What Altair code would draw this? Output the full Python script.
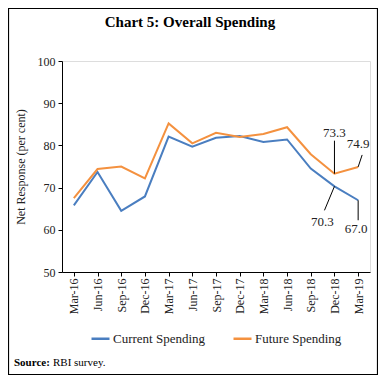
import altair as alt
import pandas as pd

categories = ["Mar-16", "Jun-16", "Sep-16", "Dec-16", "Mar-17", "Jun-17", "Sep-17",
              "Dec-17", "Mar-18", "Jun-18", "Sep-18", "Dec-18", "Mar-19"]
current = [65.8, 73.7, 64.5, 67.9, 82.1, 79.7, 81.8, 82.2, 80.8, 81.4, 74.5, 70.3, 67.0]
future = [67.5, 74.4, 75.0, 72.2, 85.2, 80.5, 83.0, 82.0, 82.7, 84.3, 77.9, 73.3, 74.9]
series_names = ["Current Spending", "Future Spending"]
colors = ["#4A7EC0", "#F4913F"]
title_text = "Chart 5: Overall Spending"

rows = []
for c, a, b in zip(categories, current, future):
    rows.append({"q": c, "s": series_names[0], "v": a})
    rows.append({"q": c, "s": series_names[1], "v": b})
df = pd.DataFrame(rows)

FONT = "Liberation Serif"
W, H = 308, 211

x = alt.X("q:N", sort=categories, title=None,
          scale=alt.Scale(type="point", padding=0.5),
          axis=alt.Axis(labelAngle=-90, labelAlign="right", labelBaseline="middle",
                        labelFont=FONT, labelFontSize=12, labelColor="#222",
                        tickSize=4, tickColor="#000", domainColor="#000",
                        labelPadding=2, grid=False))
y = alt.Y("v:Q", title="Net Response (per cent)",
          scale=alt.Scale(domain=[50, 100], nice=False, zero=False),
          axis=alt.Axis(values=[50, 60, 70, 80, 90, 100], labelFont=FONT, labelFontSize=12,
                        labelColor="#222", tickSize=4, tickColor="#000", domainColor="#000",
                        labelPadding=3, grid=False, titleFont=FONT, titleFontSize=12,
                        titleFontWeight="normal", titleColor="#222", titlePadding=10))

lines = alt.Chart(df).mark_line(strokeWidth=2).encode(
    x=x, y=y,
    color=alt.Color("s:N", sort=series_names,
                    scale=alt.Scale(domain=series_names, range=colors),
                    legend=alt.Legend(title=None, orient="none", direction="horizontal",
                                      legendX=28, legendY=267, symbolType="stroke",
                                      symbolSize=324, symbolStrokeWidth=2.5,
                                      labelFont=FONT, labelFontSize=13, labelColor="#222",
                                      columnPadding=22, labelOffset=2))
)

# annotations: (series, category, value)
ann_rows = [
    {"s": series_names[1], "q": "Dec-18", "v": 73.3, "t": "73.3"},
    {"s": series_names[1], "q": "Mar-19", "v": 74.9, "t": "74.9"},
    {"s": series_names[0], "q": "Dec-18", "v": 70.3, "t": "70.3"},
    {"s": series_names[0], "q": "Mar-19", "v": 67.0, "t": "67.0"},
]
# leader / text styling per label (pixel offsets)
styles = [
    dict(x2o=0, y2o=-33, tdx=0, tdy=-41),
    dict(x2o=4, y2o=-12, tdx=0, tdy=-23),
    dict(x2o=-10, y2o=24, tdx=-12, tdy=36),
    dict(x2o=0, y2o=20, tdx=-2, tdy=29),
]
layers = [lines]
for r, st in zip(ann_rows, styles):
    d = pd.DataFrame([r])
    base = alt.Chart(d)
    layers.append(base.mark_rule(color="#000", strokeWidth=1, x2Offset=st["x2o"],
                                 y2Offset=st["y2o"]).encode(
        x=alt.X("q:N", sort=categories), y="v:Q", x2="q:N", y2="v:Q"))
    layers.append(base.mark_text(font=FONT, fontSize=13, color="#222", dx=st["tdx"],
                                 dy=st["tdy"], baseline="middle", align="center").encode(
        x=alt.X("q:N", sort=categories), y="v:Q", text="t:N"))

one = pd.DataFrame({"a": [0]})

# outer frame
layers.append(alt.Chart(one).mark_rect(
    fill=None, stroke="#000", strokeWidth=1.2).encode(
    x=alt.value(-53.5), x2=alt.value(315.5), y=alt.value(-52.5), y2=alt.value(313.5)))

# chart title
layers.append(alt.Chart(one).mark_text(font=FONT, fontSize=15, fontWeight="bold",
                                       align="center", baseline="middle", color="#000").encode(
    x=alt.value(128), y=alt.value(-39), text=alt.value(title_text)))

# source note
layers.append(alt.Chart(one).mark_text(font=FONT, fontSize=11, fontWeight="bold",
                                       align="left", baseline="middle", color="#000").encode(
    x=alt.value(-48), y=alt.value(302), text=alt.value("Source:")))
layers.append(alt.Chart(one).mark_text(font=FONT, fontSize=11, align="left",
                                       baseline="middle", color="#000").encode(
    x=alt.value(-9), y=alt.value(302), text=alt.value("RBI survey.")))

chart = alt.layer(*layers).properties(
    width=W, height=H,
    autosize=alt.AutoSizeParams(type="none"),
    padding={"left": 54, "top": 53, "right": 8, "bottom": 103},
).configure_view(stroke=None).configure(background="white")

chart.save("out.html", embed_options={"renderer": "svg", "actions": False})
